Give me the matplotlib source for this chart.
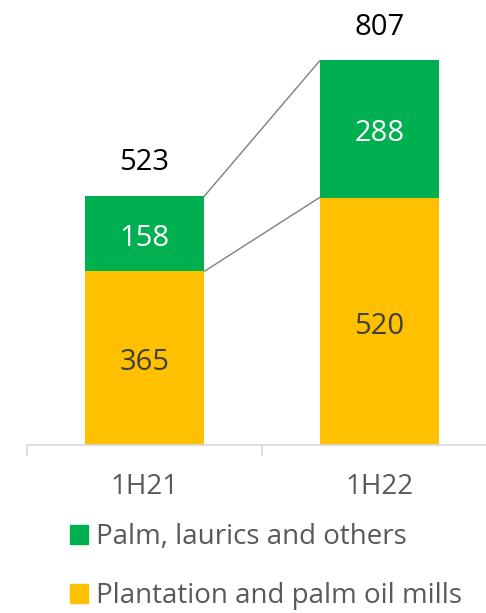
# Stacked bar chart: 1H21 vs 1H22 by segment, with connector lines.

import matplotlib.pyplot as plt
from matplotlib.patches import Patch

plt.rcParams["font.family"] = ["Open Sans", "DejaVu Sans"]

periods = ["1H21", "1H22"]
plantation = [365, 520]
palm_others = [158, 288]
totals = [523, 807]

GREEN = "#00B050"
YELLOW = "#FFC000"
GRID = "#D9D9D9"
TEXT = "#595959"

W, H, DPI = 486, 613, 100
fig = plt.figure(figsize=(W / DPI, H / DPI), dpi=DPI)

# axis spans x pixels 27..497 (right end runs off the canvas), baseline at y=445
ax = fig.add_axes([27 / W, 1 - 445 / H, 470 / W, 445 / H])
ax.set_xlim(-0.5, 1.5)
ax.set_ylim(0, 935)

x = list(range(len(periods)))
bw = 0.51
ax.bar(x, plantation, width=bw, color=YELLOW, zorder=2)
ax.bar(x, palm_others, width=bw, bottom=plantation, color=GREEN, zorder=2)

# connector lines between the bars
for top_a, top_b in [(plantation[0], plantation[1]), (totals[0], totals[1])]:
    ax.plot([x[0] + bw / 2, x[1] - bw / 2], [top_a, top_b],
            color="#7F7F7F", lw=1, zorder=1)

fs = 21
for i in x:
    ax.text(i, plantation[i] / 2 - 10, str(plantation[i]), ha="center", va="center",
            fontsize=fs, color="#404040")
    ax.text(i, plantation[i] + palm_others[i] / 2 - 10, str(palm_others[i]),
            ha="center", va="center", fontsize=fs, color="white")
    ax.text(i, totals[i] + 70, str(totals[i]), ha="center", va="center",
            fontsize=fs, color="black")

for s in ["top", "right", "left"]:
    ax.spines[s].set_visible(False)
ax.spines["bottom"].set_color(GRID)
ax.spines["bottom"].set_linewidth(1.2)
ax.set_yticks([])

ax.set_xticks([-0.5, 0.5, 1.5])
ax.set_xticklabels([])
ax.tick_params(axis="x", which="major", length=8, width=1.2, color=GRID)
ax.set_xticks(x, minor=True)
ax.set_xticklabels(periods, minor=True, fontsize=20, color=TEXT)
ax.tick_params(axis="x", which="minor", length=0, pad=20)

handles = [Patch(color=GREEN), Patch(color=YELLOW)]
labels = ["Palm, laurics and others", "Plantation and palm oil mills"]
fig.legend(handles, labels, loc="upper left", bbox_to_anchor=(70 / W, 1 - 523 / H),
           frameon=False, fontsize=20, labelcolor=TEXT, handlelength=0.65,
           handleheight=0.65, handletextpad=0.3, labelspacing=1.12,
           borderaxespad=0, borderpad=0)

fig.savefig("out.png", dpi=DPI)
